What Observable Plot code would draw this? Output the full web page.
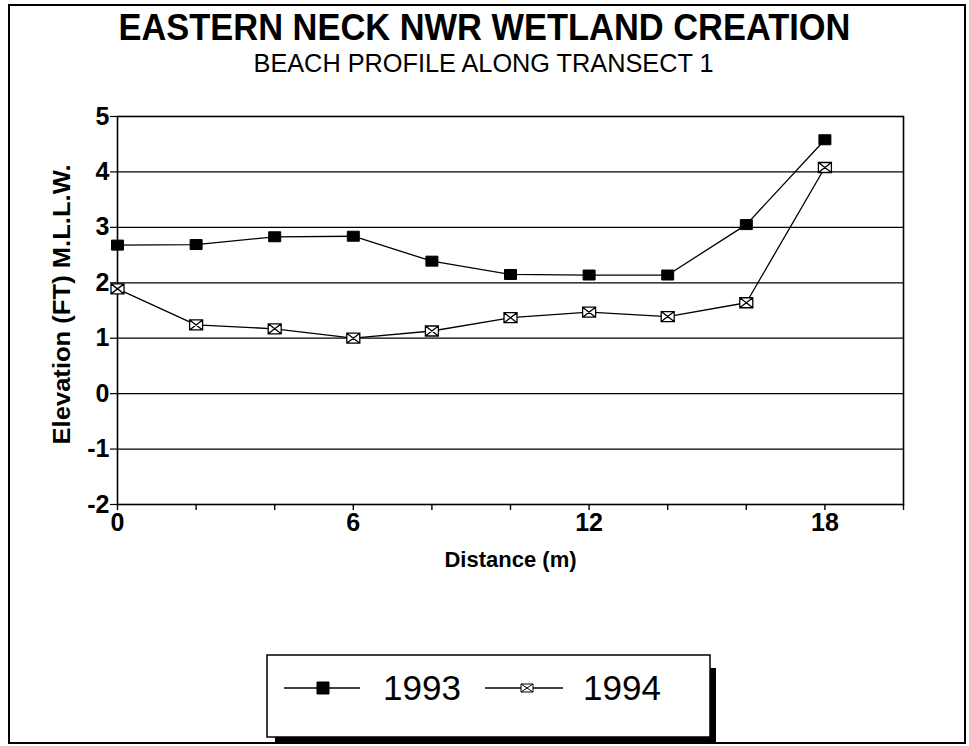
<!DOCTYPE html>
<html>
<head>
<meta charset="utf-8">
<script src="https://cdn.jsdelivr.net/npm/d3@7"></script>
<script src="https://cdn.jsdelivr.net/npm/@observablehq/plot@0.6"></script>
<style>
  html, body { margin: 0; padding: 0; background: white; }
  #chart { width: 969px; height: 746px; position: relative; }
</style>
</head>
<body>
<div id="chart"></div>
<script>
const titleText = "EASTERN NECK NWR WETLAND CREATION";
const subtitleText = "BEACH PROFILE ALONG TRANSECT 1";
const xLabel = "Distance (m)";
const yLabel = "Elevation (FT) M.L.L.W.";
const seriesNames = ["1993", "1994"];
const distance = [0, 2, 4, 6, 8, 10, 12, 14, 16, 18];
const elev1993 = [2.68, 2.69, 2.83, 2.84, 2.39, 2.15, 2.14, 2.14, 3.05, 4.58];
const elev1994 = [1.89, 1.24, 1.17, 1.00, 1.13, 1.37, 1.47, 1.39, 1.64, 4.08];
const xTicks = [0, 2, 4, 6, 8, 10, 12, 14, 16, 18, 20];
const xTickLabels = [0, 6, 12, 18];
const yTicks = [-2, -1, 0, 1, 2, 3, 4, 5];

const rows = [];
distance.forEach((d, i) => {
  rows.push({series: seriesNames[0], x: d, y: elev1993[i]});
  rows.push({series: seriesNames[1], x: d, y: elev1994[i]});
});
const rows93 = rows.filter(r => r.series === seriesNames[0]);
const rows94 = rows.filter(r => r.series === seriesNames[1]);

function boxSymbol(w, h, cross) {
  return {
    draw(ctx) {
      ctx.moveTo(-w / 2, -h / 2);
      ctx.lineTo(w / 2, -h / 2);
      ctx.lineTo(w / 2, h / 2);
      ctx.lineTo(-w / 2, h / 2);
      ctx.closePath();
      if (cross) {
        ctx.moveTo(-w / 2, -h / 2);
        ctx.lineTo(w / 2, h / 2);
        ctx.moveTo(w / 2, -h / 2);
        ctx.lineTo(-w / 2, h / 2);
      }
    }
  };
}
const sym93 = boxSymbol(12, 10, false);
const sym94 = boxSymbol(13, 10, true);

const fontFam = "'Liberation Sans', Arial, Helvetica, sans-serif";

const chart = Plot.plot({
  width: 969,
  height: 746,
  marginLeft: 117,
  marginRight: 66,
  marginTop: 116,
  marginBottom: 242,
  style: {fontFamily: fontFam, fontSize: "22px", background: "white", color: "black", overflow: "visible"},
  x: {domain: [0, 20], axis: null},
  y: {domain: [-2, 5], axis: null},
  marks: [
    Plot.gridY(yTicks, {stroke: "black", strokeOpacity: 1, strokeWidth: 1.2}),
    Plot.frame({stroke: "black", strokeWidth: 1.6}),
    Plot.axisY(yTicks, {tickSize: 7, tickPadding: 1, fontWeight: "bold", fontSize: 25, label: null, stroke: "black", strokeWidth: 1.2,
      tickFormat: d => String(d)}),
    Plot.axisX(xTicks, {tickSize: 6, tickPadding: 3, fontWeight: "bold", fontSize: 25, label: null, stroke: "black", strokeWidth: 1.4,
      tickFormat: d => xTickLabels.includes(d) ? String(d) : ""}),
    Plot.line(rows93, {x: "x", y: "y", stroke: "black", strokeWidth: 1.3}),
    Plot.line(rows94, {x: "x", y: "y", stroke: "black", strokeWidth: 1.3}),
    Plot.dot(rows93, {x: "x", y: "y", symbol: sym93, r: 6, fill: "black", stroke: "black", strokeWidth: 1}),
    Plot.dot(rows94, {x: "x", y: "y", symbol: sym94, r: 6, fill: "white", stroke: "black", strokeWidth: 1.3}),
    Plot.text([xLabel], {text: d => d, frameAnchor: "bottom", lineAnchor: "middle", dy: 55, fontWeight: "bold", fontSize: 22}),
    Plot.text([yLabel], {text: d => d, frameAnchor: "left", textAnchor: "middle", lineAnchor: "middle", dx: -55, dy: -6, rotate: -90, fontWeight: "bold", fontSize: 23}),
    Plot.text([titleText], {text: d => d, frameAnchor: "top", lineAnchor: "middle", dx: -26, dy: -88, fontWeight: "bold", fontSize: 36}),
    Plot.text([subtitleText], {text: d => d, frameAnchor: "top", lineAnchor: "middle", dx: -27, dy: -53, fontSize: 25})
  ]
});

document.getElementById("chart").appendChild(chart);
const svg = d3.select(chart);

const byText = t => svg.selectAll("text").filter(function() { return this.textContent === t; });
// condensed title widths like the original narrow typeface
byText(titleText).attr("textLength", 732).attr("lengthAdjust", "spacingAndGlyphs");
byText(subtitleText).attr("textLength", 460).attr("lengthAdjust", "spacingAndGlyphs");
byText(yLabel).attr("textLength", 280).attr("lengthAdjust", "spacingAndGlyphs");
// tick label size
svg.selectAll("text").filter(function() { return /^-?\d+$/.test(this.textContent); })
  .style("font-size", "25px").style("font-weight", "bold");

// outer page frame
svg.append("rect").attr("x", 9).attr("y", 5).attr("width", 956).attr("height", 738)
  .attr("fill", "none").attr("stroke", "black").attr("stroke-width", 2);

// legend box with drop shadow
const lg = svg.append("g").attr("aria-label", "legend").attr("text-anchor", "start");
lg.append("rect").attr("x", 275).attr("y", 668).attr("width", 441).attr("height", 75).attr("fill", "black");
lg.append("rect").attr("x", 267).attr("y", 655).attr("width", 443).attr("height", 82)
  .attr("fill", "white").attr("stroke", "black").attr("stroke-width", 1.5);
const legendItems = [
  {name: seriesNames[0], x0: 284, x1: 360, mx: 323, sym: boxSymbol(12, 12, false), fill: "black", tx: 383},
  {name: seriesNames[1], x0: 485, x1: 563, mx: 527, sym: boxSymbol(12, 8, true), fill: "white", tx: 583}
];
legendItems.forEach(it => {
  lg.append("line").attr("x1", it.x0).attr("x2", it.x1).attr("y1", 688).attr("y2", 688)
    .attr("stroke", "black").attr("stroke-width", 1.3);
  lg.append("path").attr("d", d3.symbol(it.sym, 100)()).attr("transform", `translate(${it.mx},688)`)
    .attr("fill", it.fill).attr("stroke", "black").attr("stroke-width", 1);
  lg.append("text").attr("x", it.tx).attr("y", 700).text(it.name).attr("text-anchor", "start")
    .style("font-size", "35px").attr("font-family", fontFam).attr("fill", "black");
});
</script>
</body>
</html>
